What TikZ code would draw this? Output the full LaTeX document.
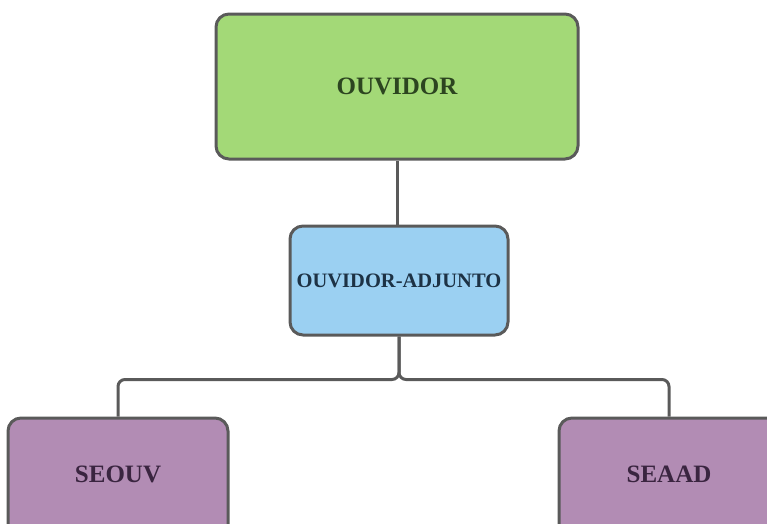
\documentclass[tikz,border=0pt]{standalone}
\usepackage{fontspec}
\setmainfont{Liberation Serif}
\usetikzlibrary{positioning}

\definecolor{ouvgreen}{HTML}{A3D977}
\definecolor{ouvblue}{HTML}{9BD0F2}
\definecolor{ouvpurple}{HTML}{B28CB4}
\definecolor{ouvline}{HTML}{5A5A5A}
\definecolor{txtgreen}{HTML}{2C4520}
\definecolor{txtblue}{HTML}{1D3245}
\definecolor{txtpurple}{HTML}{3A2540}

\begin{document}
\begin{tikzpicture}[x=1pt,y=-1pt,
	box/.style={draw=ouvline,line width=3pt,rounded corners=13pt,inner sep=0pt,font=\bfseries},
	link/.style={draw=ouvline,line width=3pt,rounded corners=7pt}]
	\useasboundingbox (0,0) rectangle (767,523);
	
	\node[box,fill=ouvgreen,text=txtgreen,minimum width=362pt,minimum height=145pt,font=\bfseries\fontsize{25}{30}\selectfont] (ouvidor) at (397,86.5) {OUVIDOR};
	\node[box,fill=ouvblue,text=txtblue,minimum width=218pt,minimum height=109pt,font=\bfseries\fontsize{20.5}{24}\selectfont] (adjunto) at (399,280.5) {OUVIDOR-ADJUNTO};
	\node[box,fill=ouvpurple,text=txtpurple,minimum width=220pt,minimum height=124pt,text depth=12pt,font=\bfseries\fontsize{25}{30}\selectfont] (seouv) at (118,480) {SEOUV};
	\node[box,fill=ouvpurple,text=txtpurple,minimum width=220pt,minimum height=124pt,text depth=12pt,font=\bfseries\fontsize{25}{30}\selectfont] (seaad) at (669,480) {SEAAD};
	
	\draw[link] (ouvidor.south) -- (ouvidor.south |- adjunto.north);
	\coordinate (split) at ([yshift=-43pt]adjunto.south);
	\draw[link] (adjunto.south) -- (split) -| (seouv.north);
	\draw[link] (adjunto.south) -- (split) -| (seaad.north);
\end{tikzpicture}
\end{document}
